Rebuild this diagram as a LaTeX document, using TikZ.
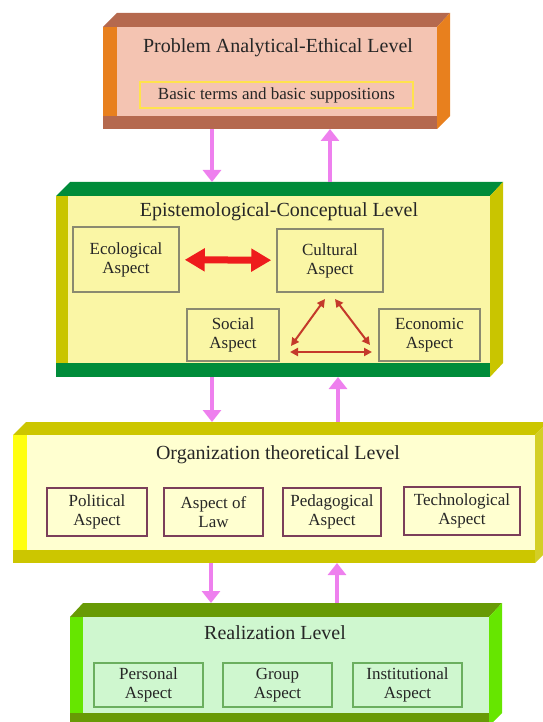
\documentclass[tikz,border=0pt]{standalone}
\usepackage{fontspec}
\setmainfont{Liberation Serif}
\usetikzlibrary{arrows.meta}

\definecolor{brownband}{HTML}{B5694E}
\definecolor{orangeside}{HTML}{E8801E}
\definecolor{pinkface}{HTML}{F4C4B2}
\definecolor{basicborder}{HTML}{FFE34D}
\definecolor{greenband}{HTML}{008C3A}
\definecolor{oliveside}{HTML}{C9C500}
\definecolor{yellowface}{HTML}{FAF6A5}
\definecolor{epiborder}{HTML}{8A8A70}
\definecolor{oliveband}{HTML}{CCC600}
\definecolor{brightyellow}{HTML}{FFFF10}
\definecolor{creamface}{HTML}{FFFFD0}
\definecolor{orgborder}{HTML}{7B3F5A}
\definecolor{leafband}{HTML}{689A05}
\definecolor{limeside}{HTML}{66E600}
\definecolor{mintface}{HTML}{CFF7CF}
\definecolor{realborder}{HTML}{6BAF5F}
\definecolor{arrowpink}{HTML}{EE80EE}
\definecolor{strongred}{HTML}{EE1C1C}
\definecolor{trired}{HTML}{C4392A}

\begin{document}
\begin{tikzpicture}[x=1pt,y=-1pt,
    leveltitle/.style={font=\fontsize{20}{22}\selectfont, text=black!85},
    aspect/.style={draw=#1, line width=1.5pt, align=center, inner sep=0pt,
      font=\fontsize{17}{19}\selectfont, text=black!85},
    levelarea/.style={inner sep=0pt, outer sep=0pt},
    pinkarrow/.style={-{Triangle[width=18pt,length=12pt]}, line width=4pt, draw=arrowpink},
    triarrow/.style={{Triangle[width=8pt,length=8pt]}-{Triangle[width=8pt,length=8pt]},
      line width=2pt, draw=trired}]
    \useasboundingbox (0,0) rectangle (542,722);

    % Problem Analytical-Ethical Level
    \fill[brownband] (103,27) -- (117,13) -- (450,13) -- (437,27) -- cycle;
    \fill[orangeside] (437,27) -- (450,13) -- (450,116) -- (437,129) -- cycle;
    \fill[pinkface] (103,27) rectangle (437,129);
    \fill[orangeside] (103,27) rectangle (117,129);
    \fill[brownband] (103,116) rectangle (437,129);
    \node[levelarea, minimum width=347pt, minimum height=116pt] (lev1) at (276.5,71) {};
    \node[leveltitle] (probtitle) at (278,48) {Problem Analytical-Ethical Level};
    \node[draw=basicborder, line width=2pt, inner sep=0pt, minimum width=273pt, minimum height=26pt,
      font=\fontsize{17}{19}\selectfont, text=black!85] (basic) at (276.5,95) {Basic terms and basic suppositions};

    % Epistemological-Conceptual Level
    \fill[greenband] (56,196) -- (70,182) -- (503,182) -- (490,196) -- cycle;
    \fill[oliveside] (490,196) -- (503,182) -- (503,363) -- (490,377) -- cycle;
    \fill[yellowface] (56,196) rectangle (490,377);
    \fill[oliveside] (56,196) rectangle (68,377);
    \fill[greenband] (56,363) rectangle (490,377);
    \node[levelarea, minimum width=447pt, minimum height=195pt] (lev2) at (279.5,279.5) {};
    \node[leveltitle] (epititle) at (279,212) {Epistemological-Conceptual Level};
    \node[aspect=epiborder, minimum width=106pt, minimum height=65pt] (eco) at (126,259.5) {Ecological\\Aspect};
    \node[aspect=epiborder, minimum width=106pt, minimum height=63pt] (cult) at (330,260.5) {Cultural\\Aspect};
    \node[aspect=epiborder, minimum width=92pt, minimum height=52pt] (soc) at (233,335) {Social\\Aspect};
    \node[aspect=epiborder, minimum width=101pt, minimum height=52pt] (econ) at (429.5,335) {Economic\\Aspect};
    \draw[{Triangle[width=22pt,length=20pt]}-{Triangle[width=22pt,length=20pt]}, line width=7pt,
      draw=strongred, shorten <=5pt, shorten >=5pt] (eco) -- (cult);
    \coordinate (tritopl) at (325,299);
    \coordinate (tritopr) at (335,299);
    \coordinate (trileft) at (291,346);
    \coordinate (triright) at (370,345);
    \coordinate (tribotl) at (290,352);
    \coordinate (tribotr) at (372,352);
    \draw[triarrow] (tritopl) -- (trileft);
    \draw[triarrow] (tritopr) -- (triright);
    \draw[triarrow] (tribotl) -- (tribotr);

    % Organization theoretical Level
    \fill[oliveband] (13,435) -- (26,422) -- (548,422) -- (535,435) -- cycle;
    \fill[oliveband!85!white] (535,435) -- (548,422) -- (548,550) -- (535,563) -- cycle;
    \fill[creamface] (13,435) rectangle (535,563);
    \fill[brightyellow] (13,435) rectangle (27,563);
    \fill[oliveband] (13,550) rectangle (535,563);
    \node[levelarea, minimum width=535pt, minimum height=141pt] (lev3) at (280.5,492.5) {};
    \node[leveltitle] (orgtitle) at (278,455) {Organization theoretical Level};
    \node[aspect=orgborder, minimum width=100pt, minimum height=48pt] (pol) at (97,512) {Political\\Aspect};
    \node[aspect=orgborder, minimum width=99pt, minimum height=48pt] (law) at (213.5,512) {Aspect of\\Law};
    \node[aspect=orgborder, minimum width=98pt, minimum height=48pt] (ped) at (332,512) {Pedagogical\\Aspect};
    \node[aspect=orgborder, minimum width=116pt, minimum height=48pt] (tech) at (462,511) {Technological\\Aspect};

    % Realization Level
    \fill[leafband] (70,617) -- (83,603) -- (502,603) -- (489,617) -- cycle;
    \fill[limeside] (489,617) -- (502,603) -- (502,713) -- (489,726) -- cycle;
    \fill[mintface] (70,617) rectangle (489,726);
    \fill[limeside] (70,617) rectangle (83,726);
    \fill[leafband] (70,713) rectangle (489,726);
    \node[levelarea, minimum width=432pt, minimum height=123pt] (lev4) at (286,664.5) {};
    \node[leveltitle] (realtitle) at (275,633) {Realization Level};
    \node[aspect=realborder, minimum width=109pt, minimum height=44pt] (pers) at (148.5,685) {Personal\\Aspect};
    \node[aspect=realborder, minimum width=109pt, minimum height=44pt] (grp) at (277.5,685) {Group\\Aspect};
    \node[aspect=realborder, minimum width=109pt, minimum height=44pt] (inst) at (407.5,685) {Institutional\\Aspect};

    % arrows between the levels
    \foreach \upper/\lower/\xd/\xu in {lev1/lev2/212/330, lev2/lev3/212/338, lev3/lev4/211/337} {
      \draw[pinkarrow] (\upper.south -| \xd,0) -- (\lower.north -| \xd,0);
      \draw[pinkarrow] (\lower.north -| \xu,0) -- (\upper.south -| \xu,0);
    }
\end{tikzpicture}
\end{document}
